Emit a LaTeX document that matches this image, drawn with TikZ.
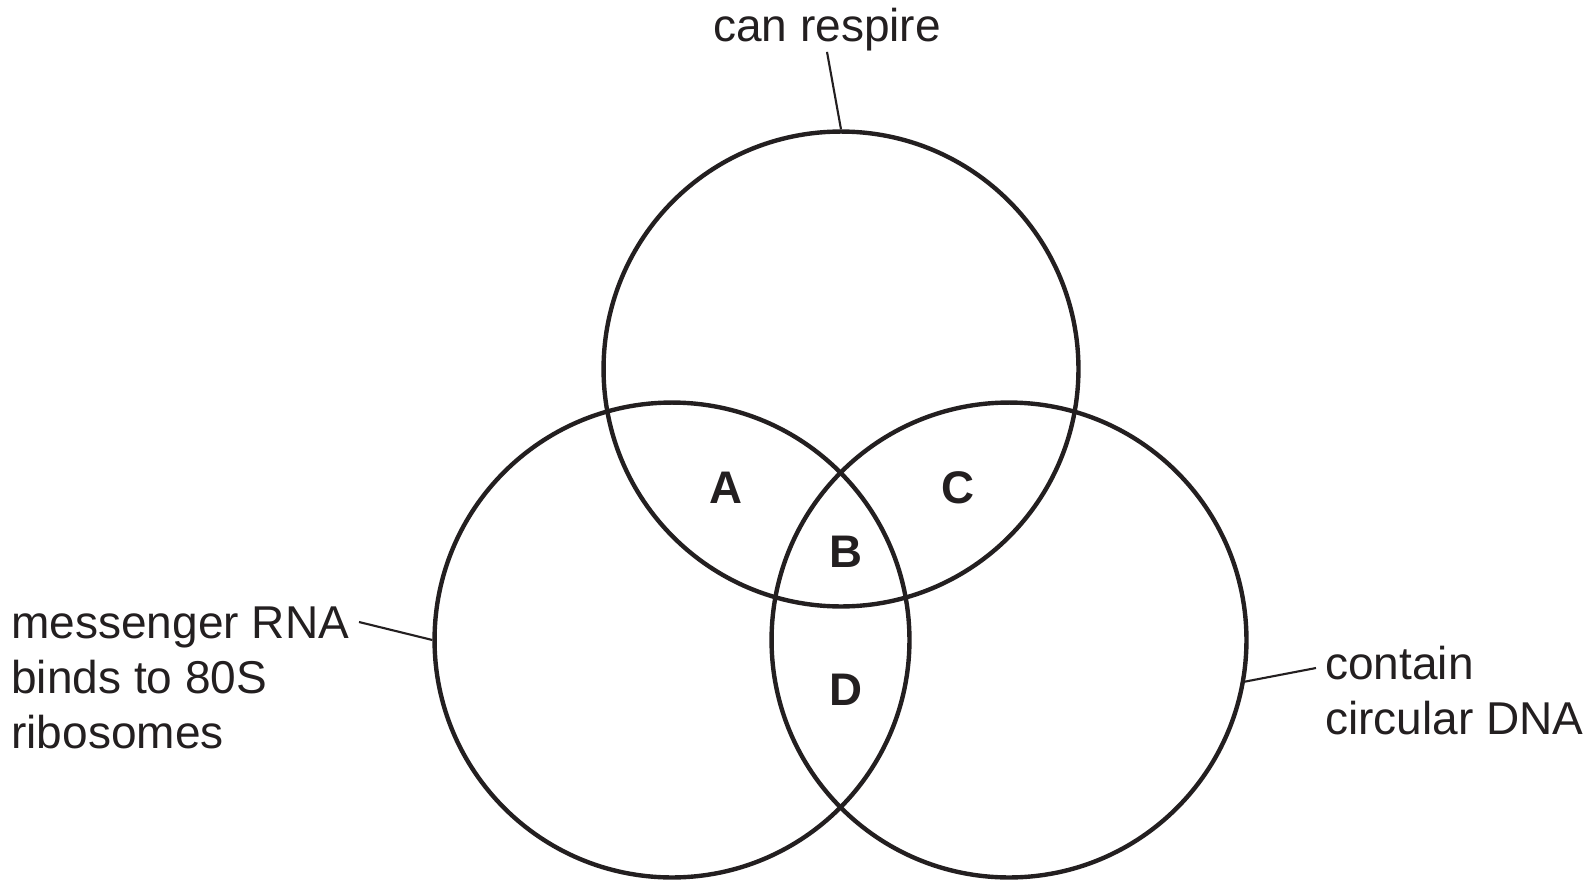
\documentclass[tikz,border=0pt]{standalone}
\usepackage{fontspec}
\setmainfont{Liberation Sans}
\definecolor{ink}{RGB}{35,31,32}
\begin{document}
\begin{tikzpicture}[x=0.02cm, y=-0.02cm,
  venn/.style={draw=ink, line width=2.5pt, circle, minimum size=9.5cm, inner sep=0pt},
  lbl/.style={inner sep=0pt, text=ink, font=\fontsize{26.2}{31.3}\selectfont},
  region/.style={inner sep=0pt, text=ink, font=\fontsize{26}{31.3}\selectfont\bfseries},
  pointer/.style={draw=ink, line width=1.2pt}]
  \useasboundingbox (0,0) rectangle (1591,892);

  % the three sets
  \node[venn] (resp) at (841,369) {};
  \node[venn] (rna) at (672,640) {};
  \node[venn] (dna) at (1009,640) {};

  % overlap letters
  \node[region] (A) at (726,488) {A};
  \node[region] (B) at (846,552) {B};
  \node[region] (C) at (958,488) {C};
  \node[region] (D) at (846,690) {D};

  % set labels and their pointers
  \node[lbl, anchor=base] (resplabel) at (827,42) {can respire};
  \node[lbl, anchor=base west, align=left] (rnalabel) at (11,748) {messenger RNA\\binds to 80S\\ribosomes};
  \node[lbl, anchor=base west, align=left] (dnalabel) at (1325,734) {contain\\circular DNA};
  \coordinate (rnatip) at (359,622);
  \coordinate (dnatip) at (1316,668);
  \draw[pointer] (resplabel.south) -- (resp.north);
  \draw[pointer] (rnatip) -- (rna.west);
  \draw[pointer] (dnatip) -- (dna.-10.5);
\end{tikzpicture}
\end{document}
